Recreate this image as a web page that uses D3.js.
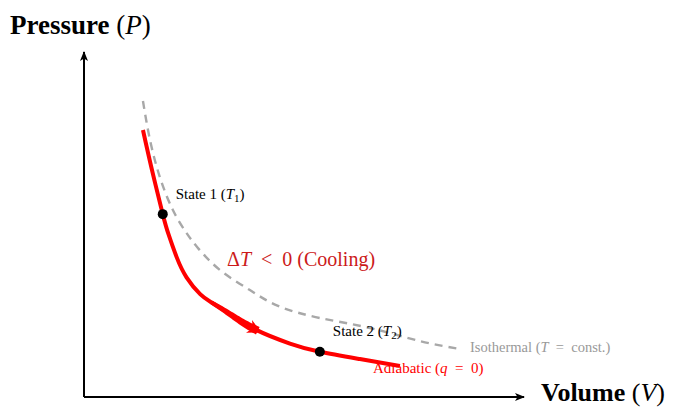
<!DOCTYPE html>
<html>
<head>
<meta charset="utf-8">
<script src="https://cdn.jsdelivr.net/npm/d3@7"></script>
<style>
  body { margin: 0; background: #fff; }
  text { font-family: "Liberation Serif", "DejaVu Serif", serif; }
</style>
</head>
<body>
<svg id="chart" width="675" height="408"></svg>
<script>
// points (volume, pressure in arbitrary units)
const adiabaticV = [1.34, 1.545, 1.79, 1.92, 2.11, 2.33, 2.64, 2.90, 3.32, 3.89, 4.68, 5.36, 6.27, 7.18];
const adiabaticP = [7.74, 6.58, 5.30, 4.72, 4.04, 3.47, 2.98, 2.74, 2.40, 1.96, 1.55, 1.31, 1.10, 0.90];
const isothermV = [1.34, 1.50, 1.73, 2.02, 2.30, 2.57, 3.09, 3.77, 4.41, 5.36, 6.50, 7.64, 8.55];
const isothermP = [8.58, 7.45, 6.35, 5.42, 4.81, 4.35, 3.68, 3.10, 2.64, 2.29, 2.00, 1.62, 1.39];
const states = [
  { name: "State 1", sub: "1", v: 1.79, p: 5.30 },
  { name: "State 2", sub: "2", v: 5.36, p: 1.31 }
];
// stretch of the adiabat that carries the direction arrow (volume)
const arrowFromV = 2.90, arrowToV = 3.95;

const svg = d3.select("#chart");
const x = d3.scaleLinear().domain([0, 10]).range([84, 524]);
const y = d3.scaleLinear().domain([0, 10]).range([397, 52]);

const defs = svg.append("defs");
defs.append("marker")
    .attr("id", "axis-head")
    .attr("viewBox", "0 0 10 10")
    .attr("refX", 9).attr("refY", 5)
    .attr("markerWidth", 10).attr("markerHeight", 10)
    .attr("markerUnits", "userSpaceOnUse")
    .attr("orient", "auto")
    .append("path")
    .attr("d", "M0,1 L10,5 L0,9 L2.5,5 Z")
    .attr("fill", "#000");
defs.append("marker")
    .attr("id", "flow-head")
    .attr("viewBox", "0 0 10 10")
    .attr("refX", 7).attr("refY", 5)
    .attr("markerWidth", 14).attr("markerHeight", 14)
    .attr("markerUnits", "userSpaceOnUse")
    .attr("orient", "auto")
    .append("path")
    .attr("d", "M0,0 L10,5 L0,10 L3,5 Z")
    .attr("fill", "#ff0000");

// axes
svg.append("line")
    .attr("x1", x(0)).attr("y1", y(0))
    .attr("x2", x(0)).attr("y2", y(10))
    .attr("stroke", "#000").attr("stroke-width", 2)
    .attr("marker-end", "url(#axis-head)");
svg.append("line")
    .attr("x1", x(0)).attr("y1", y(0))
    .attr("x2", x(10)).attr("y2", y(0))
    .attr("stroke", "#000").attr("stroke-width", 2)
    .attr("marker-end", "url(#axis-head)");

const line = d3.line()
    .x(d => x(d[0])).y(d => y(d[1]))
    .curve(d3.curveNatural);

const iso = isothermV.map((v, i) => [v, isothermP[i]]);
const adi = adiabaticV.map((v, i) => [v, adiabaticP[i]]);

svg.append("path")
    .attr("d", line(iso))
    .attr("fill", "none")
    .attr("stroke", "#a8a8a8")
    .attr("stroke-width", 2.4)
    .attr("stroke-dasharray", "8,6");

const adiPath = svg.append("path")
    .attr("d", line(adi))
    .attr("fill", "none")
    .attr("stroke", "#ff0000")
    .attr("stroke-width", 4);

// thicker wedge along the adiabat, sampled from the drawn curve itself
const node = adiPath.node();
const total = node.getTotalLength();
function lengthAtX(px) {
    let lo = 0, hi = total;
    for (let k = 0; k < 40; k++) {
        const mid = (lo + hi) / 2;
        if (node.getPointAtLength(mid).x < px) lo = mid; else hi = mid;
    }
    return lo;
}
const l0 = lengthAtX(x(arrowFromV)), l1 = lengthAtX(x(arrowToV));
const steps = 30;
const pts = d3.range(steps + 1).map(i => {
    const p = node.getPointAtLength(l0 + (l1 - l0) * i / steps);
    return [p.x, p.y];
});
const left = [], right = [];
pts.forEach((p, i) => {
    const a = pts[Math.max(i - 1, 0)], b = pts[Math.min(i + 1, steps)];
    const dx = b[0] - a[0], dy = b[1] - a[1], n = Math.hypot(dx, dy);
    const w = 2 + 2.2 * i / steps;
    left.push([p[0] - dy / n * w, p[1] + dx / n * w]);
    right.push([p[0] + dy / n * w, p[1] - dx / n * w]);
});
svg.append("path")
    .attr("d", d3.line()(left.concat(right.reverse())) + "Z")
    .attr("fill", "#ff0000");
svg.append("path")
    .attr("d", d3.line()(pts.slice(steps - 2)))
    .attr("fill", "none")
    .attr("stroke", "none")
    .attr("marker-end", "url(#flow-head)");

// state points
svg.selectAll(".state")
    .data(states)
    .enter()
    .append("circle")
    .attr("class", "state")
    .attr("cx", d => x(d.v))
    .attr("cy", d => y(d.p))
    .attr("r", 5)
    .attr("fill", "#000");

const stateOffset = [[13, -15], [13, -16]];
states.forEach((d, i) => {
    const t = svg.append("text")
        .attr("x", x(d.v) + stateOffset[i][0])
        .attr("y", y(d.p) + stateOffset[i][1])
        .attr("font-size", 15)
        .attr("fill", "#000");
    t.append("tspan").text(d.name + " (");
    t.append("tspan").attr("font-style", "italic").text("T");
    t.append("tspan").attr("font-size", 11).attr("dy", 3).text(d.sub);
    t.append("tspan").attr("dy", -3).text(")");
});

// curve labels
const isoLabel = svg.append("text")
    .attr("x", 470).attr("y", 352)
    .attr("font-size", 14.5).attr("fill", "#999")
    .attr("xml:space", "preserve");
isoLabel.append("tspan").text("Isothermal (");
isoLabel.append("tspan").attr("font-style", "italic").text("T");
isoLabel.append("tspan").text("  =  const.)");

const adiLabel = svg.append("text")
    .attr("x", 373).attr("y", 373)
    .attr("font-size", 15).attr("fill", "#ff0000")
    .attr("xml:space", "preserve");
adiLabel.append("tspan").text("Adiabatic (");
adiLabel.append("tspan").attr("font-style", "italic").text("q");
adiLabel.append("tspan").text("  =  0)");

const dtLabel = svg.append("text")
    .attr("x", 227).attr("y", 266)
    .attr("font-size", 20).attr("fill", "#cc1a1a")
    .attr("xml:space", "preserve");
dtLabel.append("tspan").text("Δ");
dtLabel.append("tspan").attr("font-style", "italic").text("T");
dtLabel.append("tspan").text("  <  0 (Cooling)");

// axis titles
const yTitle = svg.append("text")
    .attr("x", 10).attr("y", 34)
    .attr("font-size", 27).attr("fill", "#000");
yTitle.append("tspan").attr("font-weight", "bold").text("Pressure");
yTitle.append("tspan").text(" (");
yTitle.append("tspan").attr("font-style", "italic").text("P");
yTitle.append("tspan").text(")");

const xTitle = svg.append("text")
    .attr("x", 541).attr("y", 401)
    .attr("font-size", 26).attr("fill", "#000");
xTitle.append("tspan").attr("font-weight", "bold").text("Volume");
xTitle.append("tspan").text(" (");
xTitle.append("tspan").attr("font-style", "italic").text("V");
xTitle.append("tspan").text(")");
</script>
</body>
</html>
